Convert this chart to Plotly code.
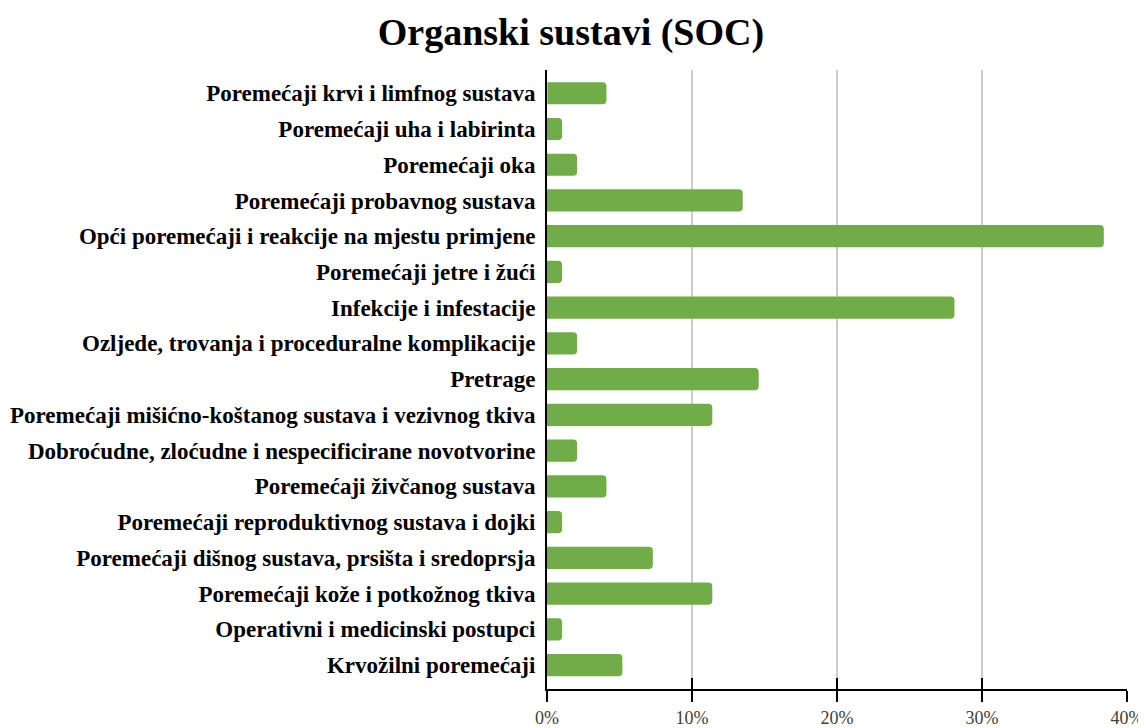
import plotly.graph_objects as go

categories = [
    "Poremećaji krvi i limfnog sustava",
    "Poremećaji uha i labirinta",
    "Poremećaji oka",
    "Poremećaji probavnog sustava",
    "Opći poremećaji i reakcije na mjestu primjene",
    "Poremećaji jetre i žući",
    "Infekcije i infestacije",
    "Ozljede, trovanja i proceduralne komplikacije",
    "Pretrage",
    "Poremećaji mišićno-koštanog sustava i vezivnog tkiva",
    "Dobroćudne, zloćudne i nespecificirane novotvorine",
    "Poremećaji živčanog sustava",
    "Poremećaji reproduktivnog sustava i dojki",
    "Poremećaji dišnog sustava, prsišta i sredoprsja",
    "Poremećaji kože i potkožnog tkiva",
    "Operativni i medicinski postupci",
    "Krvožilni poremećaji",
]
values = [4.1, 1.04, 2.08, 13.5, 38.4, 1.04, 28.1, 2.08, 14.6, 11.4, 2.08, 4.1, 1.04, 7.3, 11.4, 1.04, 5.2]
tick_vals = [0, 10, 20, 30, 40]
tick_text = ["0%", "10%", "20%", "30%", "40%"]

serif = "Liberation Serif, Times New Roman, serif"

fig = go.Figure()
fig.add_trace(go.Bar(
    x=values, y=categories, orientation="h",
    marker=dict(color="#70AD47", cornerradius=4, line=dict(width=0)),
    width=0.62, hoverinfo="x+y",
))
# invisible trace on overlay axis to show inside ticks
fig.add_trace(go.Bar(x=[0], y=[categories[0]], orientation="h", xaxis="x2",
                     marker=dict(color="rgba(0,0,0,0)"), showlegend=False, hoverinfo="skip"))

fig.update_layout(
    width=1138, height=720,
    margin=dict(l=539, r=19, t=62, b=39, autoexpand=False),
    paper_bgcolor="white", plot_bgcolor="white",
    showlegend=False,
    barmode="overlay",
    title=dict(text="<b>Organski sustavi (SOC)</b>", x=0.4947, xanchor="center",
               y=0.967, yanchor="middle",
               font=dict(family=serif, size=38, color="black")),
    xaxis=dict(range=[0, 40], tickvals=tick_vals, ticktext=tick_text,
               showgrid=True, gridcolor="#cccccc", gridwidth=2,
               showline=True, linecolor="black", linewidth=2,
               ticks="outside", ticklen=11, tickwidth=2, tickcolor="black",
               ticklabelstandoff=0, automargin=False,
               tickfont=dict(family=serif, size=18, color="#404040"),
               zeroline=False),
    xaxis2=dict(range=[0, 40], tickvals=tick_vals, overlaying="x", side="bottom",
                showticklabels=False, showgrid=False, showline=False,
                ticks="inside", ticklen=11, tickwidth=2, tickcolor="black",
                zeroline=False, automargin=False),
    yaxis=dict(categoryorder="array", categoryarray=categories,
               range=[16.67, -0.65], automargin=False,
               showgrid=False, showline=True, linecolor="black", linewidth=2,
               ticks="", ticklabelstandoff=5,
               tickfont=dict(family=serif, size=23, color="black", weight="bold")),
)

fig.write_html("out.html")
